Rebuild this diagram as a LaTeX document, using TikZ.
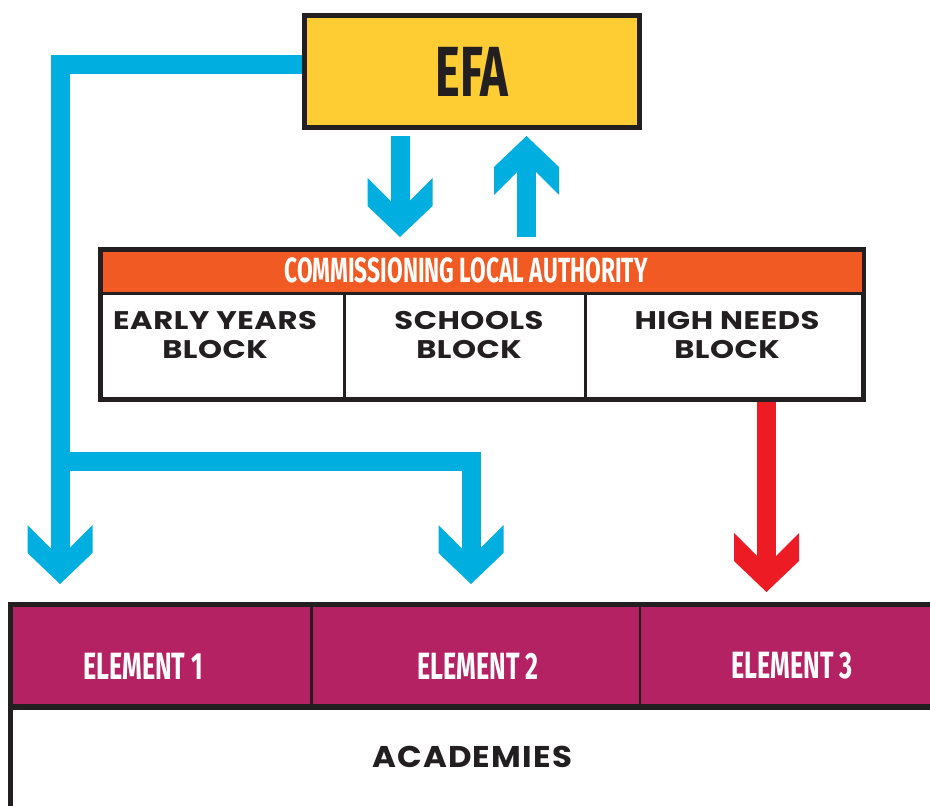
\documentclass[tikz,border=0pt]{standalone}
\usepackage{fontspec}
\setmainfont{Poppins}
\newfontfamily\condfont[FakeStretch=0.66]{Fira Sans}
\newfontfamily\headfont[FakeStretch=0.65]{Fira Sans}
\newfontfamily\blockfont[FakeStretch=1.2,LetterSpace=2]{Poppins}
\newfontfamily\acadfont[FakeStretch=1.08,LetterSpace=4]{Poppins}

\definecolor{efayellow}{HTML}{FDCD33}
\definecolor{flowblue}{HTML}{00AEDF}
\definecolor{flowred}{HTML}{ED1C24}
\definecolor{laorange}{HTML}{F15A22}
\definecolor{elemmagenta}{HTML}{B52263}
\definecolor{inkdark}{HTML}{231F20}

% 粗箭头, 带竖边的 V 形箭头 (#1 名字, #2 颜色)
\newcommand\declarechevron[2]{%
\pgfdeclarearrow{
  name = #1,
  setup code = {
    \pgfarrowssettipend{0pt}
    \pgfarrowssetlineend{-35pt}
    \pgfarrowssetvisualbackend{-35pt}
    \pgfarrowssetbackend{-59pt}
    \pgfarrowsupperhullpoint{-59pt}{32.5pt}
    \pgfarrowsupperhullpoint{0pt}{0pt}
  },
  drawing code = {
    \pgfsetfillcolor{#2}
    \pgfpathmoveto{\pgfqpoint{0pt}{0pt}}
    \pgfpathlineto{\pgfqpoint{-31pt}{32.5pt}}
    \pgfpathlineto{\pgfqpoint{-59pt}{32.5pt}}
    \pgfpathlineto{\pgfqpoint{-36pt}{9.5pt}}
    \pgfpathlineto{\pgfqpoint{-36pt}{-9.5pt}}
    \pgfpathlineto{\pgfqpoint{-59pt}{-32.5pt}}
    \pgfpathlineto{\pgfqpoint{-31pt}{-32.5pt}}
    \pgfpathclose
    \pgfusepathqfill
  }
}}
\declarechevron{ChevronBlue}{flowblue}
\declarechevron{ChevronRed}{flowred}

\begin{document}
\begin{tikzpicture}[x=1pt, y=-1pt,
	frame/.style={draw=inkdark, line width=5pt, inner sep=0pt},
	blueflow/.style={draw=flowblue, line width=19pt, line join=miter, -ChevronBlue},
	redflow/.style={draw=flowred, line width=19pt, -ChevronRed},
	cond/.style={font=\condfont\bfseries\fontsize{#1}{#1}\selectfont},
	blocktext/.style={text=inkdark, align=center, font=\blockfont\bfseries\fontsize{25.5}{28.5}\selectfont}]
	\useasboundingbox (0,0) rectangle (930,806);
	\clip (0,0) rectangle (930,806);
	% EFA 方框
	\node [frame, fill=efayellow, minimum width=335pt, minimum height=112pt, cond=71, text=inkdark] (efa) at (472,71.5) {EFA};
	% 地方当局方框, 橙色标题和三个分块
	\node [frame, minimum width=763pt, minimum height=150pt] (la) at (482,324.5) {};
	\fill [laorange] (102.5,252) rectangle (861.5,292);
	\draw [inkdark, line width=3pt] (102.5,293.5) -- (861.5,293.5);
	\draw [inkdark, line width=3pt] (344,293.5) -- (344,397);
	\draw [inkdark, line width=3pt] (585,293.5) -- (585,397);
	\node [text=white, font=\headfont\bfseries\fontsize{35}{35}\selectfont] (lahead) at (466,270.5) {COMMISSIONING LOCAL AUTHORITY};
	\node [blocktext] (eyblock) at (215,335) {EARLY YEARS\\BLOCK};
	\node [blocktext] (schblock) at (469,335) {SCHOOLS\\BLOCK};
	\node [blocktext] (hnblock) at (727,335) {HIGH NEEDS\\BLOCK};
	% 底部: 三个 element 和 academies
	\fill [elemmagenta] (13,607) rectangle (935,704);
	\draw [inkdark, line width=5pt] (10.5,830) |- (950,604.5);
	\draw [inkdark, line width=6pt] (13,707) -- (950,707);
	\draw [inkdark, line width=2.5pt] (311.5,607) -- (311.5,704);
	\draw [inkdark, line width=2.5pt] (640,607) -- (640,704);
	\node [cond=38, text=white] (el1) at (143,666) {ELEMENT 1};
	\node [cond=38, text=white] (el2) at (478,666) {ELEMENT 2};
	\node [cond=38, text=white] (el3) at (792,666) {ELEMENT 3};
	\node [text=inkdark, font=\acadfont\bfseries\fontsize{30}{30}\selectfont] (acad) at (472,757) {ACADEMIES};
	\coordinate (tipa) at (60,584);
	\coordinate (tipb) at (471,584);
	\coordinate (tipc) at (766.5,592);
	% 箭头
	\draw [blueflow] ([xshift=-72pt,yshift=-6pt]efa.south) -- ([xshift=-72pt,yshift=10pt]efa.south |- la.north);
	\draw [blueflow] ([xshift=54.5pt,yshift=10pt]efa.south |- la.north) -- ([xshift=54.5pt,yshift=-6pt]efa.south);
	\draw [blueflow] (efa.west |- 0,64) -| (tipa);
	\draw [blueflow] (tipa |- 0,461) -| (tipb);
	\draw [redflow] ([xshift=284.5pt]la.south) -- (tipc);
\end{tikzpicture}
\end{document}
